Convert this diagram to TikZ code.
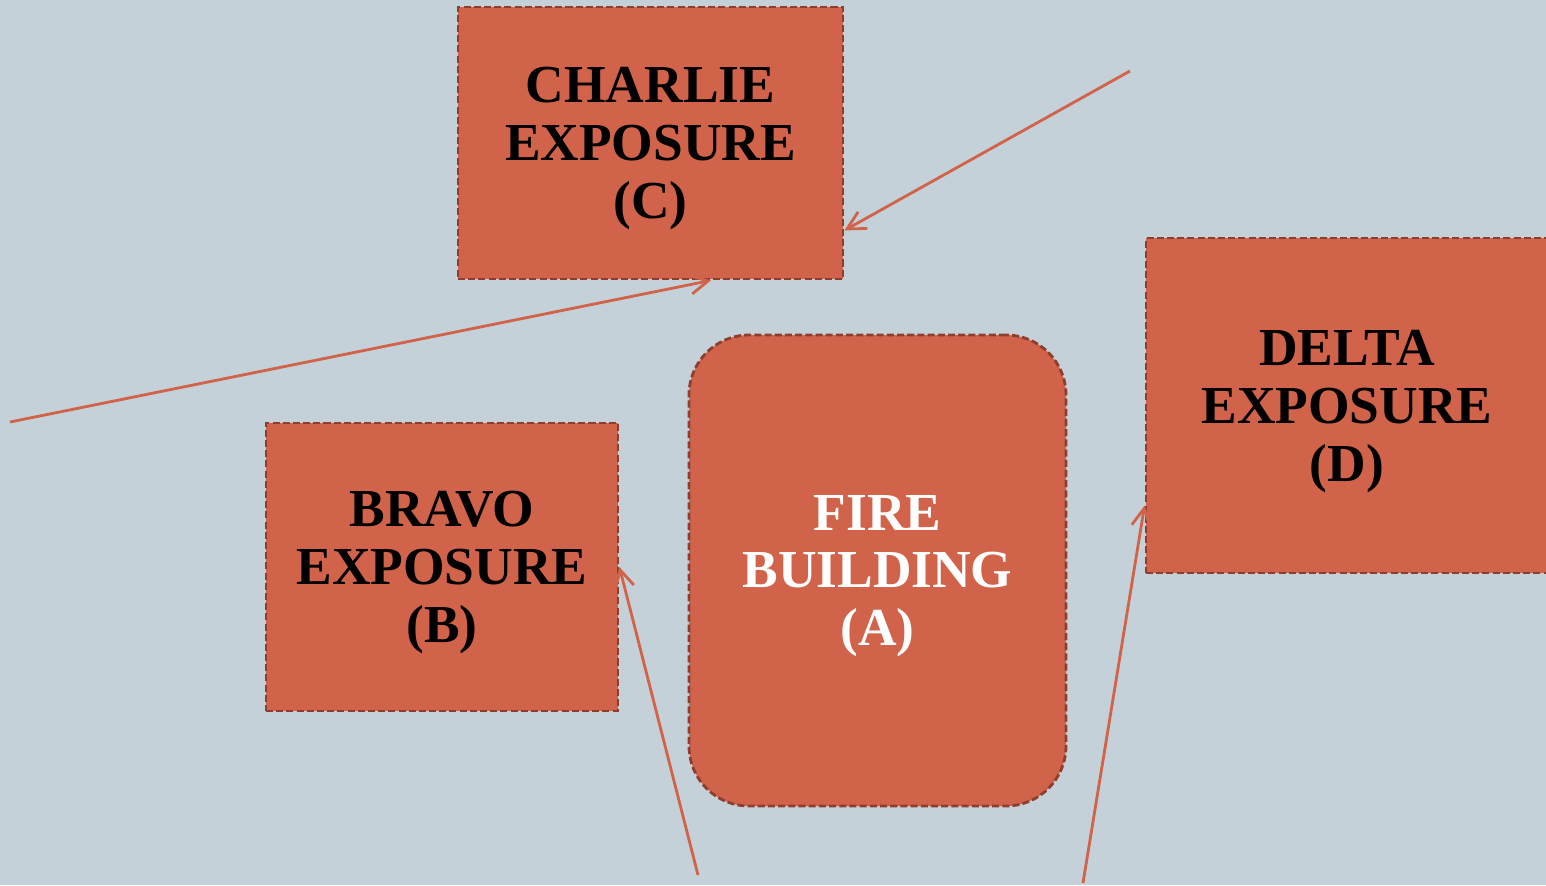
\documentclass[tikz,border=0pt]{standalone}
\usepackage{fontspec}
\setmainfont{Liberation Serif}
\usepackage{xcolor}
\usetikzlibrary{arrows.meta, positioning, calc}
\definecolor{slate}{HTML}{C5D1D8}
\definecolor{brick}{HTML}{D1634A}
\definecolor{brickdark}{HTML}{8E3E2E}

\begin{document}
\begin{tikzpicture}[
    exposure/.style={rectangle, draw=brickdark, fill=brick, line width=0.8pt,
        dash pattern=on 2pt off 0.9pt, inner sep=0pt, align=center,
        font=\fontsize{15.2}{16.5}\selectfont\bfseries, text=black,
        text depth=-0.03cm},
    firebox/.style={exposure, rounded corners=0.6cm, text=white},
    link/.style={draw=brick, line width=0.8pt,
        -{Straight Barb[length=1.8mm, width=1.9mm]}}
]
    % background and page size
    \fill[slate] (0,0) rectangle (15.46,8.85);
    \useasboundingbox (0,0) rectangle (15.46,8.85);

    \node[exposure, minimum width=3.85cm, minimum height=2.72cm] (charlie) at (6.505, 7.42) {CHARLIE\\EXPOSURE\\(C)};
    \node[exposure, minimum width=3.52cm, minimum height=2.88cm] (bravo) at (4.42, 3.18) {BRAVO\\EXPOSURE\\(B)};
    \node[firebox, minimum width=3.77cm, minimum height=4.71cm] (fire) at (8.775, 3.145) {FIRE\\BUILDING\\(A)};
    \node[exposure, minimum width=4.02cm, minimum height=3.35cm] (delta) at (13.47, 4.795) {DELTA\\EXPOSURE\\(D)};

    % free ends of the arrows
    \coordinate (c1) at (11.30, 8.14);
    \coordinate (c2) at (0.10, 4.63);
    \coordinate (c3) at (6.98, 0.10);
    \coordinate (c4) at (10.83, 0.02);

    % arrows
    \draw[link] (c1) -- ($(charlie.south east)+(0,0.5)$);
    \draw[link] (c2) -- ($(charlie.south)+(0.605,0)$);
    \draw[link] (c3) -- (bravo.east);
    \draw[link] (c4) -- ($(delta.west)+(0,-1)$);
\end{tikzpicture}
\end{document}
